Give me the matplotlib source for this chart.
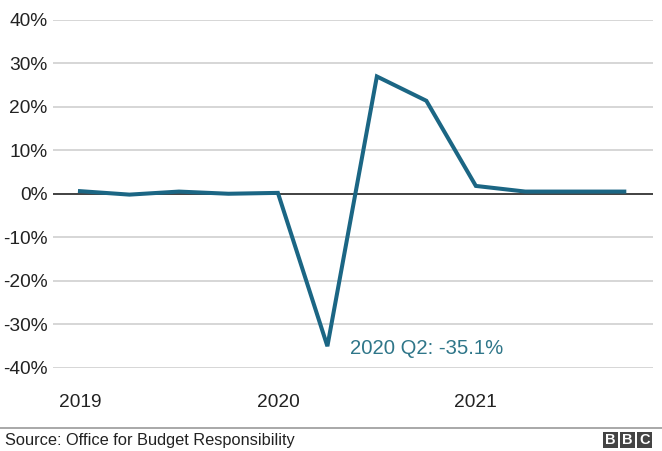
import matplotlib
matplotlib.use('Agg')
import matplotlib.pyplot as plt
from matplotlib.patches import Rectangle
from matplotlib.lines import Line2D

plt.rcParams['font.family'] = ['Liberation Sans', 'DejaVu Sans']

# 季度 GDP 变化（OBR 情景）
quarters = ['2019 Q1', '2019 Q2', '2019 Q3', '2019 Q4',
            '2020 Q1', '2020 Q2', '2020 Q3', '2020 Q4',
            '2021 Q1', '2021 Q2', '2021 Q3', '2021 Q4']
growth = [0.6, -0.2, 0.5, 0.0, 0.2, -35.1, 27.0, 21.4, 1.8, 0.5, 0.5, 0.5]
year_ticks = ['2019', '2020', '2021']
y_ticks = [-40, -30, -20, -10, 0, 10, 20, 30, 40]

W, H = 662, 451
fig = plt.figure(figsize=(W / 100, H / 100), dpi=100)
ax = fig.add_axes([53 / W, 1 - 367.5 / H, (653 - 53) / W, (367.5 - 20) / H])

x = list(range(len(quarters)))
for t in y_ticks:
    if t != 0:
        ax.axhline(t, color='#cccccc', lw=1.1, zorder=1)
ax.axhline(0, color='#333333', lw=1.3, zorder=2)
ax.plot(x, growth, color='#1b6684', lw=2.9, zorder=3, solid_joinstyle='miter', clip_on=False)

low = growth.index(min(growth))
ax.annotate('2020 Q2: %.1f%%' % growth[low], (x[low], growth[low]),
            xytext=(16, -2), textcoords='offset points', color='#2f7689',
            fontsize=14.6, va='center', ha='left')

ax.set_xlim(-0.545, 11.58)
ax.set_ylim(-40, 40)
ax.set_yticks(y_ticks)
ax.set_yticklabels(['%d%%' % t for t in y_ticks])
ax.set_xticks([quarters.index(y + ' Q1') for y in year_ticks])
ax.set_xticklabels(year_ticks)
ax.tick_params(axis='both', length=0, labelsize=13.8, colors='#222222')
ax.tick_params(axis='y', pad=4)
ax.tick_params(axis='x', pad=19)
for s in ax.spines.values():
    s.set_visible(False)

# 底部来源栏
fig.add_artist(Line2D([0, 1], [1 - 428 / H, 1 - 428 / H], color='#999999', lw=1.2))
fig.text(5 / W, 1 - 441 / H, 'Source: Office for Budget Responsibility',
         fontsize=11.8, color='#222222', va='center', ha='left')
for i, letter in enumerate('BBC'):
    x0 = 603 + i * 17
    fig.add_artist(Rectangle((x0 / W, 1 - 448 / H), 15 / W, 16 / H,
                             facecolor='#444444', edgecolor='none'))
    fig.text((x0 + 7.5) / W, 1 - 440 / H, letter, color='white', fontsize=10.5,
             fontweight='bold', ha='center', va='center')

fig.savefig('out.png', dpi=100, facecolor='white')
